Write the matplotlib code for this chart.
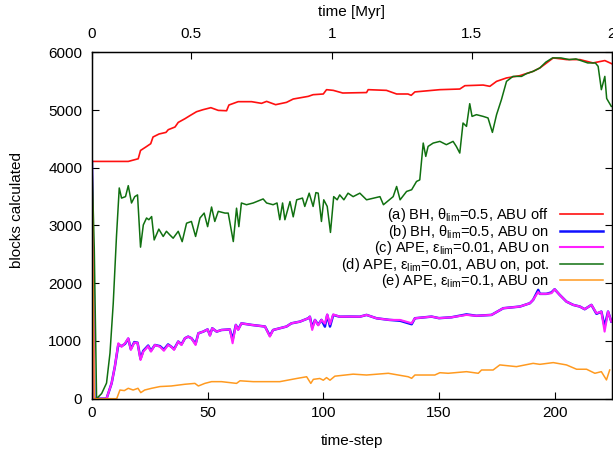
import numpy as np
import matplotlib
matplotlib.use('Agg')
import matplotlib.pyplot as plt

plt.rcParams['font.family'] = ['Liberation Sans', 'DejaVu Sans']
plt.rcParams['mathtext.default'] = 'regular'
plt.rcParams['font.size'] = 11

# (time-step, blocks) pares
bh_off = [(0, 4110), (15.7, 4110), (20, 4156), (21, 4300), (23.3, 4360), (25.4, 4417), (26.4, 4533),
          (29, 4585), (32, 4613), (33, 4660), (35.9, 4706), (37.3, 4786), (40.2, 4850), (42.3, 4902),
          (45.2, 4971), (48, 5006), (51.4, 5041), (54.6, 4994), (58.2, 4988), (59.2, 5087), (63.2, 5145),
          (69, 5145), (73.3, 5116), (75.5, 5150), (79.4, 5093), (84.1, 5133), (87, 5191), (93.5, 5237),
          (95.6, 5266), (100, 5278), (101.4, 5353), (104.3, 5341), (108.4, 5295), (118.7, 5303),
          (119.4, 5353), (127.3, 5341), (131.7, 5278), (136.6, 5278), (138, 5255), (139.6, 5314),
          (150.4, 5353), (159, 5364), (161.2, 5422), (169.1, 5433), (172, 5411), (174.9, 5497),
          (179.2, 5556), (185, 5596), (190.7, 5670), (193.6, 5729), (196, 5800), (199.4, 5903),
          (205.2, 5874), (210.9, 5874), (216.6, 5816), (221.7, 5857), (224.6, 5804)]

ape_on = [(0, 4100), (1, 0), (6.3, 0), (8.5, 267), (9.9, 555), (11.4, 960), (12.8, 900), (14.3, 960),
          (15.7, 1047), (16.8, 845), (18.3, 970), (19.7, 970), (21, 670), (22.2, 815), (24.3, 910),
          (25.5, 815), (27.2, 930), (29.4, 900), (31.1, 830), (32.9, 930), (34.3, 900), (35.5, 845),
          (37.3, 990), (38.7, 930), (40.2, 1047), (41.6, 1075), (43, 1047), (44.8, 930), (46, 1133),
          (48.1, 1162), (50, 1200), (51, 1090), (52, 1220), (53.9, 1162), (56, 1190), (59.6, 1200),
          (60.8, 960), (62.2, 1278), (63.2, 1190), (64.6, 1305), (69, 1278), (74.8, 1250), (76.9, 1075),
          (78.3, 1190), (84.1, 1250), (86.2, 1305), (89.9, 1335), (93.5, 1393), (94.2, 1420), (95.2, 1191),
          (96.4, 1364), (97.8, 1270), (99.2, 1365), (100.7, 1300), (101.7, 1460), (102.9, 1290),
          (104.3, 1460), (107.1, 1420), (111.5, 1422), (115.8, 1420), (118.7, 1451), (123, 1393),
          (128.5, 1365), (133.2, 1364), (138.2, 1307), (139.6, 1393), (146.8, 1422), (150, 1395),
          (155.4, 1410), (161.9, 1451), (166.2, 1436), (172.7, 1451), (177.8, 1567), (185, 1596),
          (189.3, 1654), (190.7, 1711), (192.9, 1850), (193.6, 1816), (196.4, 1816), (198.6, 1827),
          (200, 1896), (202.2, 1798), (205.1, 1682), (208, 1625), (210.9, 1596), (213, 1550),
          (215.9, 1625), (218.1, 1480), (220.2, 1509), (221.6, 1162), (223.1, 1509), (224.5, 1336)]

bh_on = [(0, 4100), (1, 0), (6.3, 0), (8.5, 267), (9.9, 555), (11.4, 940), (12.8, 910), (14.3, 950),
         (15.7, 1040), (16.8, 860), (18.3, 980), (19.7, 970), (21, 690), (22.2, 830), (24.3, 920),
         (25.5, 830), (27.2, 930), (29.4, 910), (31.1, 850), (32.9, 940), (34.3, 900), (35.5, 860),
         (37.3, 990), (38.7, 940), (40.2, 1047), (41.6, 1075), (43, 1047), (44.8, 950), (46, 1133),
         (48.1, 1162), (50, 1200), (51, 1100), (52, 1220), (53.9, 1162), (56, 1190), (59.6, 1200),
         (60.8, 1020), (62.2, 1278), (63.2, 1200), (64.6, 1305), (69, 1278), (74.8, 1250), (76.9, 1090),
         (78.3, 1190), (84.1, 1250), (86.2, 1305), (89.9, 1335), (93.5, 1393), (94.2, 1420), (95.2, 1230),
         (96.4, 1364), (97.8, 1280), (99.2, 1365), (100.7, 1248), (101.7, 1451), (102.9, 1250),
         (104.3, 1451), (107.1, 1420), (111.5, 1422), (115.8, 1420), (118.7, 1451), (123, 1393),
         (128.5, 1365), (133.2, 1350), (138.2, 1290), (139.6, 1393), (146.8, 1422), (150, 1395),
         (155.4, 1410), (161.9, 1460), (166.2, 1436), (172.7, 1451), (177.8, 1567), (185, 1596),
         (189.3, 1654), (190.7, 1711), (192.9, 1885), (193.6, 1816), (196.4, 1816), (198.6, 1840),
         (200, 1896), (202.2, 1798), (205.1, 1682), (208, 1625), (210.9, 1596), (213, 1550),
         (215.9, 1625), (218.1, 1470), (220.2, 1509), (221.6, 1250), (223.1, 1509), (224.5, 1336)]

ape_pot = [(0, 4100), (1, 2600), (2, 0), (4.2, 90), (6.3, 270), (7.8, 790), (9.2, 1650), (10.6, 2810),
           (11.8, 3650), (12.8, 3475), (14.5, 3500), (15.7, 3690), (17.1, 3390), (18.5, 3500), (19.7, 3530),
           (21, 2625), (22.2, 3010), (23.6, 3130), (24.6, 3100), (25.8, 3155), (26.9, 2750), (28.9, 2937),
           (30.8, 2810), (32.2, 2900), (33.6, 2840), (35.1, 2780), (37.3, 2900), (39, 2720), (40.9, 3040),
           (43, 3070), (44.8, 2810), (46.7, 3130), (48.5, 3215), (50, 2980), (51.7, 3320), (53.1, 3070),
           (54.6, 3245), (57.5, 3215), (58.9, 3215), (61.1, 2722), (62.5, 3300), (63.5, 2980), (64.6, 3390),
           (66.8, 3360), (69.7, 3390), (74, 3460), (75.5, 3390), (78.3, 3360), (80, 3390), (81.2, 3100),
           (82.4, 3390), (83.4, 3100), (85.6, 3415), (87, 3150), (88.5, 3445), (91, 3475), (92, 3330),
           (93.9, 3560), (95.6, 3330), (96.8, 3570), (97.8, 3560), (99.2, 3070), (100.2, 3445), (101.7, 3330),
           (103.1, 2880), (104.5, 3500), (106, 3445), (107.1, 3530), (108.9, 3445), (110.7, 3560),
           (112.9, 3500), (115.8, 3560), (118.7, 3445), (124.5, 3500), (126, 3360), (130.2, 3500),
           (131.7, 3676), (133.2, 3445), (136, 3590), (138.2, 3620), (140.3, 3763), (141.7, 3790),
           (143.2, 4428), (144.3, 4197), (145.3, 4370), (147.5, 4428), (150.4, 4457), (153.2, 4400),
           (156.1, 4457), (157.5, 4370), (159, 4255), (160.4, 4775), (161.9, 4717), (163.3, 5110),
           (164.3, 4890), (166.2, 4920), (169.1, 4890), (171.2, 4863), (173.1, 4613), (174.9, 4920),
           (177, 5180), (179.2, 5497), (182, 5583), (185.7, 5583), (187.8, 5630), (190.7, 5670),
           (193.6, 5729), (196.2, 5830), (199.1, 5903), (202.7, 5903), (206.3, 5874), (209.2, 5886),
           (214.3, 5816), (217.6, 5816), (218.8, 5757), (220.2, 5353), (221.7, 5583), (222.5, 5200),
           (224.5, 5063)]

ape_01 = [(0, 4100), (1, 0), (10.7, 0), (12.1, 150), (14, 140), (15.7, 180), (17.8, 150), (19.9, 180),
          (21.1, 105), (22.8, 150), (25.8, 180), (29.4, 210), (34.3, 220), (40.2, 250), (44.5, 265),
          (46, 220), (48.8, 265), (51.7, 295), (56, 295), (62.5, 265), (64, 310), (69.7, 295), (81.2, 295),
          (88.5, 350), (92.8, 380), (94.6, 265), (95.7, 335), (98.5, 350), (100, 320), (101.4, 365),
          (102.9, 320), (105, 390), (112.9, 425), (118.7, 410), (128.1, 440), (136.7, 380), (138.2, 353),
          (139.6, 410), (148.2, 410), (150.4, 450), (154, 440), (161.9, 468), (167, 440), (168.4, 497),
          (173.4, 497), (176.3, 585), (183.5, 555), (190.7, 612), (193.6, 595), (199.4, 625), (205.1, 585),
          (209.5, 510), (213.8, 510), (217.4, 440), (220.2, 468), (222.4, 325), (223.8, 497)]

labels = [r'(a) BH, θ$_{lim}$=0.5, ABU off',
          r'(b) BH, θ$_{lim}$=0.5, ABU on',
          r'(c) APE, ε$_{lim}$=0.01, ABU on',
          r'(d) APE, ε$_{lim}$=0.01, ABU on, pot.',
          r'(e) APE, ε$_{lim}$=0.1, ABU on']

# eixo de cima: posicao em time-step de cada tempo em Myr
myr_ticks = [0, 0.5, 1, 1.5, 2]
myr_steps = [0, 42.8, 103.7, 164.2, 224.7]

fig = plt.figure(figsize=(6.13, 4.51), dpi=100)
ax = fig.add_axes([0.150, 0.116, 0.848, 0.768])

series = [(bh_off, '#ff1010', 1.2), (bh_on, '#1010ff', 1.8), (ape_on, '#ff20ff', 1.5),
          (ape_pot, '#107010', 1.1), (ape_01, '#ff9a20', 1.1)]
for (dados, cor, lw), lab in zip(series, labels):
    d = np.array(dados)
    ax.plot(d[:, 0], d[:, 1], color=cor, lw=lw, label=lab)

ax.set_xlim(0, 224.7)
ax.set_ylim(0, 6000)
ax.set_xticks([0, 50, 100, 150, 200])
ax.set_yticks([0, 1000, 2000, 3000, 4000, 5000, 6000])
ax.tick_params(direction='in', length=5, right=True, top=False, labelsize=11)
ax.tick_params(axis='x', pad=5)
ax.tick_params(axis='y', pad=7)
ax.set_xlabel('time-step', fontsize=11, labelpad=10)
ax.set_ylabel('blocks calculated', fontsize=11)
ax.yaxis.set_label_coords(-0.131, 0.545)
for s in ax.spines.values():
    s.set_linewidth(1.0)

ax2 = ax.twiny()
ax2.set_xlim(ax.get_xlim())
ax2.set_xticks(myr_steps)
ax2.set_xticklabels([('%g' % t) for t in myr_ticks])
ax2.tick_params(direction='in', length=5, labelsize=11, pad=8)
ax2.set_xlabel('time [Myr]', fontsize=11, labelpad=8)

leg = ax.legend(loc='upper right', bbox_to_anchor=(0.983, 0.556), frameon=False, markerfirst=False,
                handlelength=2.95, handletextpad=0.75, labelspacing=-0.1, borderaxespad=0,
                borderpad=0, fontsize=10.5)

fig.savefig('out.png', dpi=100)
